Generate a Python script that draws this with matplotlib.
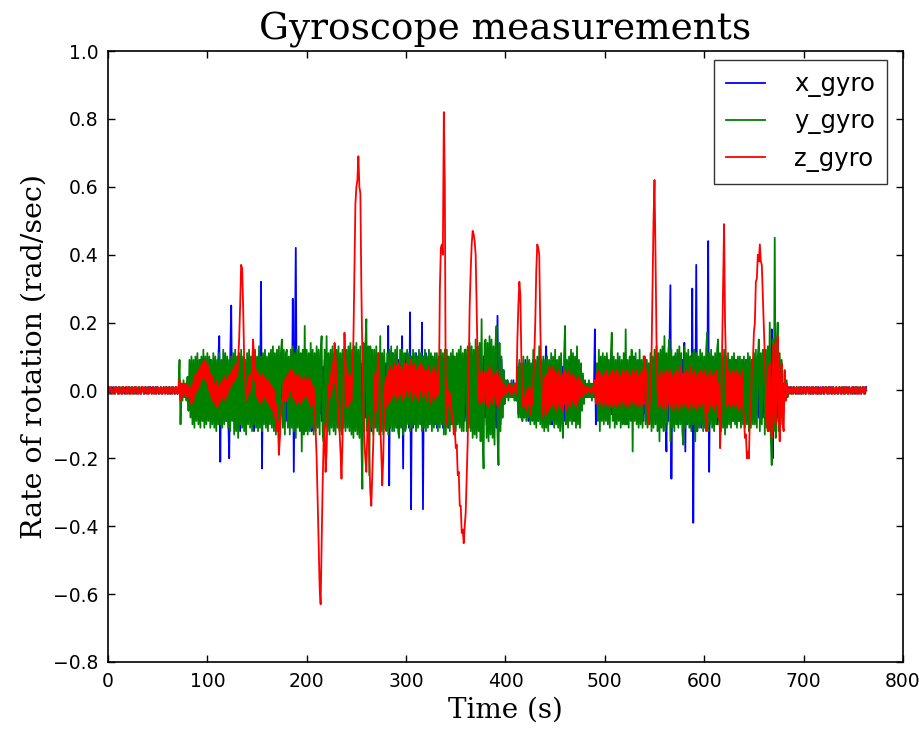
import numpy as np
import matplotlib
matplotlib.use("Agg")
import matplotlib.pyplot as plt

# Gyro readings in units of 0.01 rad/s, one sample per second.
# Split into idle lead-in (0-79 s), active part (80-679 s) and idle tail (680-763 s).

x_head = [
    0, 1, 0, -1, 1, 0, -1, 0, 1, 0, -1, 1, 0, 0, -1, 1, 0, -1, 1, 0,
    0, 1, -1, 0, 1, 0, -1, 1, 0, -1, 0, 1, 0, -1, 1, 0, 0, -1, 1, 0,
    -1, 1, 0, 1, -1, 0, 1, 0, -1, 1, 0, -1, 0, 1, 0, -1, 1, 0, 0, 1,
    -1, 0, 1, -1, 0, 1, 0, -1, 1, 0, -1, 1, 2, -2, 1, -1, 2, -1, 1, -2,
]
x_active = [
    -2, 3, -4, 6, -5, 8, -7, 6, -8, 7, -6, 8, -7, 9, -8, 7, -9, 8, -7, 6,
    -8, 7, -6, 9, -8, 7, -9, 8, -7, 6, -8, 9, 16, -21, 8, -7, 9, -8, 7, -9,
    8, -7, -20, 9, 25, -8, 7, -9, 8, -10, 9, -8, 7, -12, 8, -9, 7, -8, 9, -7,
    8, -9, 7, -8, 9, -7, 8, -12, 7, -9, 8, -7, 9, -8, 32, -23, 8, -7, 9, -8,
    7, -9, 8, -7, 9, -8, 7, -9, 8, -7, 9, -8, 7, -9, 8, -7, 9, -8, 7, -9,
    8, -10, 9, -8, 7, -9, 27, -24, 10, 42, -10, 9, -8, 10, -9, 8, -10, 9, -8, 7,
    -9, 8, -7, 9, -8, -12, 9, -8, 7, -9, 8, -8, 9, -7, 8, -9, 7, -8, 9, -7,
    8, -9, 7, -8, 9, -8, 10, -9, 8, -10, 9, -8, 7, -9, 8, -7, 9, -8, 10, -9,
    8, -10, 9, -8, 10, -9, 8, -11, 9, -10, 8, -9, 10, -8, 9, -11, 8, -10, 9, -8,
    10, -9, 8, -11, 9, -12, 10, -9, 8, -10, 9, -11, 10, -9, 8, -10, 9, -8, 10, -9,
    8, -10, 19, -28, 10, -9, 11, -10, 9, -8, 10, -11, 9, -10, 8, -9, 16, -23, 10, -9,
    11, -9, 10, -11, 23, -35, 10, -11, 9, -10, 11, -9, 10, -8, 9, -10, 20, -35, 10, -9,
    11, -8, 9, -10, 8, -9, 10, -8, 9, -10, 8, -11, 9, -10, 8, -9, 10, -11, 9, -10,
    8, -9, 10, -11, 9, -10, 8, -9, 10, -8, 9, -10, 8, -9, 7, -8, 9, -10, 8, -9,
    10, -8, 9, -10, 8, -9, 7, -8, 9, -10, 8, -9, 10, -8, 9, -10, 8, -9, 10, -8,
    9, -10, 8, -9, 10, -8, 9, -10, 8, -9, 10, -11, 22, -9, 8, -10, 9, -8, 6, -4,
    2, -2, 3, -1, 2, -2, 1, -2, 3, -2, 2, -3, 6, -7, 8, -7, 8, -9, 7, -8,
    9, -7, 8, -9, 8, -9, 7, -8, 9, -7, 8, -9, 8, -9, 7, -8, 9, -7, 8, -9,
    7, 13, -8, 7, -9, 8, -7, -10, 8, -9, 9, -8, 7, -9, 8, -7, 9, -8, 7, -9,
    9, -8, 7, -9, 8, -7, 9, -8, 7, -9, 8, -7, 9, -8, 7, -6, 6, -5, 4, -3,
    2, -2, 1, -2, 2, -1, 2, -2, 1, -2, 18, -10, 7, -8, 6, -7, 8, -6, 7, -8,
    6, -7, 10, -8, 7, -6, 8, -7, 6, -8, 7, -6, 8, -7, 6, -8, 7, -6, 8, -7,
    6, -8, 7, -7, 6, -8, 7, -6, 8, -7, 6, -8, 7, -6, 8, -7, 6, -8, 7, -9,
    8, -7, 9, -8, 7, -9, 8, -7, 9, -8, 7, -9, 8, -7, 9, -8, 7, -9, 8, -7,
    9, -8, -18, 9, -9, 10, 31, -26, 8, -9, 10, -8, 9, -10, 8, -9, 10, -8, 9, -10,
    14, -18, 9, -10, 8, -9, 10, -11, 30, -39, 9, -12, 37, -12, 9, -10, 8, -11, 9, -10,
    8, -11, 9, -10, 44, -24, 9, -8, 10, -10, 8, -9, 9, -10, 8, -9, 7, -8, 9, -8,
    9, -8, 7, -9, 8, -7, 9, -8, 7, -9, 8, -7, 9, -8, 7, -9, 8, -7, 9, -8,
    8, -7, 9, -8, 7, -9, 8, -7, 9, -8, 7, -9, 8, -7, 9, -8, 8, -9, 10, -8,
    9, -8, 10, -9, 8, -10, 9, -8, 18, -20, 9, -10, 8, -9, 10, -8, 9, -7, 6, -4,
]
x_tail = [
    2, -1, 1, 0, -1, 1, 0, 1, -1, 0, 1, 0, -1, 1, 0, -1, 0, 1, -1, 0,
    1, 0, -1, 1, 0, 0, 1, -1, 0, 1, -1, 0, 1, 0, -1, 1, 0, -1, 0, 1,
    -1, 0, 1, 0, -1, 1, 0, 1, -1, 0, 1, -1, 0, 1, 0, -1, 1, 0, -1, 0,
    1, -1, 0, 1, 0, -1, 1, 0, 0, -1, 1, 0, -1, 1, 0, -1, 0, 1, -1, 0,
    1, 0, -1, 1,
]

y_head = [
    0, -1, 1, 0, -1, 0, 1, -1, 0, 1, 0, -1, 1, 0, -1, 1, 0, 0, -1, 1,
    -1, 0, 1, -1, 0, 1, 0, -1, 1, 0, -1, 1, 0, -1, 0, 1, -1, 0, 1, 0,
    0, -1, 1, 0, -1, 1, 0, -1, 1, 0, 1, -1, 0, 1, -1, 0, 1, 0, -1, 1,
    0, -1, 1, 0, -1, 1, 0, -1, 1, 0, -1, 1, 9, -10, 2, -3, 3, -2, 2, -3,
]
y_active = [
    4, -6, 9, -8, 10, -10, 9, -11, 10, -9, 11, -10, 9, -11, 10, -9, 12, -11, 10, -10,
    11, -9, 10, -11, 9, -10, 11, -11, 10, -12, 9, -10, 11, -10, 9, -11, 12, -10, 11, -9,
    10, -11, 9, -12, 10, -9, 11, -13, 12, -12, 10, -14, 11, -10, 12, -11, 10, -12, 9, -13,
    11, -10, 12, -11, 10, -12, 11, -10, 12, -11, 10, -12, 13, -11, 10, -12, 11, -10, 12, -11,
    10, -12, 11, -10, 12, -11, 13, -12, 11, -13, 12, -11, 13, -12, 11, 15, -11, 12, -13, 11,
    12, -11, 10, -13, 12, -11, 13, -12, 11, -14, 12, -11, 13, -12, 11, -18, 12, -13, 19, -12,
    12, -13, 11, -12, 14, -11, 12, -13, 11, -12, 13, -11, 12, -13, 11, 16, -12, -15, 12, -11,
    16, -12, 11, -13, 12, -11, 13, -12, 11, -13, 12, -11, 13, -12, 11, -13, 12, -11, 13, -12,
    12, -11, 13, -12, 14, -13, 12, -14, 13, -12, 14, -13, 12, -14, 13, -15, -29, 14, -12, 13,
    21, -12, 13, -25, 13, -11, 12, -13, 12, -11, 13, -12, 11, -13, 16, -12, 11, -13, 12, -11,
    -12, 11, -13, 12, -11, 13, -12, 11, -12, 12, -11, 13, -12, -14, 12, -11, 12, -13, 11, -12,
    -11, 12, -10, 11, -12, 10, -11, 12, -10, 11, -12, 10, -11, 12, -10, 11, -12, 10, -11, 12,
    -12, 10, -11, 12, -10, 11, -12, 10, -11, 11, -10, 11, -12, 10, -11, 12, -10, 11, -13, 12,
    -13, 12, -11, 10, -12, 11, -10, 12, -11, 10, -12, 11, -10, 12, -11, 13, -12, 11, -12, 12,
    12, -12, 13, -11, 14, -12, 13, -14, 12, -13, 15, -14, 13, -12, 14, -15, 21, -13, -23, 14,
    15, -14, 14, -15, 16, -13, 15, -14, 13, -16, 14, 19, -13, -22, 14, -12, 10, -8, 6, -4,
    3, -2, 3, -3, 2, -2, 3, -2, 2, -3, 2, -3, 7, -8, 9, -8, 8, -9, 10, -8,
    8, -9, 10, -8, 9, -10, 8, -9, 12, -10, 9, -11, 10, -9, 13, -10, 9, -11, 10, -12,
    9, -11, 10, -12, 9, -10, 11, -9, 10, -11, 12, -10, 9, -11, 10, -12, 11, -10, -14, 10,
    19, -10, 9, -11, 10, -9, 12, -10, 11, -9, 10, -11, 13, -10, 9, -11, 8, -6, 5, -4,
    3, -2, 2, -2, 3, -2, 2, -3, 2, -2, 3, -3, 8, -9, 12, -12, 10, -9, 11, -10,
    10, -9, 11, -10, 9, -11, 10, 17, -9, 10, -11, 9, -10, 11, -9, 10, -11, 9, -10, 11,
    -10, 18, -10, 9, -11, 10, -9, 12, -18, 10, -9, 11, -10, 9, -11, 12, -10, 9, -11, 10,
    10, -10, 9, -11, 8, -10, 11, -12, 10, -11, 12, -10, 13, -12, 11, -15, 12, -11, 13, -12,
    16, -12, 11, -10, 12, 15, -15, 12, -11, 10, -12, 11, -10, 12, -11, 13, -10, 11, -12, -16,
    13, -11, 11, -10, 12, -11, 10, -12, 11, -10, 12, -15, 11, -12, 10, -11, 12, -10, 11, -12,
    10, -11, 12, 17, -12, 11, -10, 12, -11, 10, -12, 11, -10, 12, 15, -10, 11, -12, 10, -11,
    12, -13, 10, -11, 11, -10, 9, -11, 10, -9, 11, -10, 9, -11, 10, -9, 10, -11, 9, -10,
    10, -11, 9, -10, 11, -12, 10, -11, 9, -10, 11, -10, 12, -11, 10, 15, -12, 11, -10, 12,
    11, -13, 12, -11, 13, -12, 20, -14, -22, 15, -12, 45, -14, 12, 20, -12, 11, -10, 9, -8,
]
y_tail = [
    -6, 5, -3, 3, -2, 1, 0, -1, 1, 0, -1, 1, 0, -1, 0, 1, -1, 0, 1, -1,
    0, 1, 0, -1, 1, 0, -1, 0, 1, -1, 1, 0, -1, 1, 0, -1, 0, 1, -1, 0,
    1, -1, 0, 1, 0, -1, 1, 0, -1, 1, 0, -1, 0, 1, -1, 0, 1, 0, -1, 1,
    0, -1, 1, 0, -1, 0, 1, -1, 0, 1, 0, -1, 1, 0, -1, 1, 0, 0, -1, 1,
    0, -1, 1, 0,
]

z_head = [
    1, -1, 0, 1, -1, 0, 1, -1, 1, 0, -1, 1, -1, 0, 1, -1, 1, 0, -1, 1,
    -1, 1, 0, -1, 1, -1, 0, 1, -1, 1, 0, -1, 1, -1, 0, 1, -1, 1, 0, -1,
    1, -1, 1, 0, -1, 1, -1, 0, 1, -1, 1, 0, -1, 1, -1, 0, 1, -1, 1, 0,
    -1, 1, -1, 0, 1, -1, 1, 0, -1, 1, -1, 0, 3, -3, 2, -2, 1, -1, 2, -2,
]
z_active = [
    2, -2, 1, -1, -4, 2, -3, 4, -1, 5, 0, 6, 1, 7, 3, 8, 4, 9, 3, 8,
    2, 7, 0, 5, -2, 4, -3, 2, -4, 3, -5, 1, -4, 2, -3, 3, -2, 4, -3, 3,
    -2, 4, 0, 5, 1, 6, 2, 7, 3, 8, 4, 9, 15, 25, 37, 36, 25, 10, 3, -2,
    -3, 4, -1, 5, 0, 6, 15, 10, 3, 6, -2, 5, -3, 4, -4, 5, -3, 4, -2, 3,
    -3, 3, -4, 2, -5, 1, -6, 0, -8, -4, -12, -9, -19, -14, -8, -3, -2, 3, -3, 4,
    -3, 5, -2, 6, 0, 6, -2, 5, -3, 4, -4, 5, -3, 4, -4, 3, -3, 4, -2, 3,
    -2, 4, -3, 3, -5, 2, -4, 1, -5, -12, -20, -32, -45, -58, -63, -45, -28, -15, -10, -24,
    -18, -5, 2, -2, 5, 0, 8, 2, 14, 10, 3, -3, -8, -12, -18, -26, -15, 0, 17, 8,
    3, -5, 5, -4, 4, -3, 6, 15, 35, 55, 60, 62, 69, 60, 58, 30, 10, -5, -15, -20,
    -24, -12, -8, -20, -30, -34, -25, -15, 0, 5, -6, 4, 11, 5, -10, -18, -28, -20, -5, 2,
    4, -5, 6, -4, 7, -3, 6, -2, 8, -1, 7, -3, 8, -2, 7, -1, 6, -3, 8, -2,
    8, 0, 7, -2, 9, 0, 7, -3, 8, -1, 6, -2, 7, -3, 8, 0, 7, -2, 6, -1,
    6, -3, 7, 0, 5, -4, 6, -2, 7, -3, 5, -2, 6, -1, 30, 42, 43, 40, 82, 60,
    -10, 3, -4, 0, -6, -1, -9, -7, -13, -11, -17, -16, -25, -24, -34, -34, -42, -41, -45, -40,
    -36, -25, -15, 5, 25, 35, 43, 47, 46, 44, 40, 25, 8, 0, -4, 5, -3, 6, -4, 5,
    5, -4, 6, -5, 7, -3, 6, -4, 4, -2, 5, -4, 6, -5, 4, -3, 3, -2, 2, -1,
    1, -1, 1, 0, 2, -1, 1, -1, 1, 0, 2, -1, 15, 25, 32, 28, 10, -3, -5, -2,
    -3, -6, 0, -4, 1, -7, 0, -4, 3, 10, 20, 35, 43, 42, 40, 20, 5, -3, -8, -3,
    4, -7, 5, -6, 7, -5, 6, -4, 7, -5, 6, -6, 5, -4, 6, -5, 4, -6, 5, -4,
    6, -6, 5, -4, 6, -5, 4, -3, 5, -4, 4, -5, 3, -3, 4, -2, 3, -2, 2, -1,
    1, -1, 1, 0, 1, -1, 0, 1, 0, -1, 3, -4, 5, -4, 6, -3, 5, -5, 4, -4,
    5, -4, 6, -5, 4, -4, 5, -5, 6, -4, 5, -5, 6, -4, 5, -5, 4, -3, 6, -4,
    5, -5, 6, -4, 5, -5, 4, -3, 6, -4, 5, -4, 6, -5, 4, -4, 5, -5, 6, -4,
    10, 6, 4, -5, -10, -4, -2, 10, 30, 50, 62, 40, 15, 0, -5, 5, -4, 6, -5, 4,
    5, -6, 6, -5, 5, -4, 6, -5, 4, -6, 5, -4, 6, -5, 5, -6, 7, -4, 5, -5,
    5, -4, 6, -5, 5, -6, 7, -4, 5, -5, 6, -5, 4, -6, 5, -4, 6, -5, 5, -4,
    6, -5, -12, 4, -6, 5, -4, 6, -5, 4, -6, 5, -4, 6, -8, 2, -17, -8, 10, 30,
    49, 20, 8, -5, 6, -4, 5, -5, 6, -4, 5, -5, 6, -4, 5, -6, 4, -5, 6, -4,
    -8, -14, -13, -20, -18, -20, -8, -5, 7, 8, 17, 20, 32, 33, 40, 38, 43, 38, 37, 28,
    20, 10, 0, -8, -12, 6, 8, -8, -14, 10, 14, -6, -10, 8, 16, -5, -15, 4, 8, -10,
]
z_tail = [
    -12, 6, -3, 2, -1, 1, -1, 0, 1, -1, 1, 0, -1, 1, -1, 0, 1, -1, 1, 0,
    -1, 1, -1, 0, 1, -1, 1, 0, -1, 1, -1, 0, 1, -1, 1, 0, -1, 1, -1, 0,
    1, -1, 1, 0, -1, 1, -1, 0, 1, -1, 1, 0, -1, 1, -1, 0, 1, -1, 1, 0,
    -1, 1, -1, 0, 1, -1, 1, 0, -1, 1, -1, 0, 1, -1, 1, 0, -1, 1, -1, 0,
    1, -1, 1, 0,
]

x_gyro = np.concatenate([x_head, x_active, x_tail]) / 100.0
y_gyro = np.concatenate([y_head, y_active, y_tail]) / 100.0
z_gyro = np.concatenate([z_head, z_active, z_tail]) / 100.0
assert len(x_gyro) == len(y_gyro) == len(z_gyro), (len(x_gyro), len(y_gyro), len(z_gyro))
time = np.arange(len(x_gyro))  # seconds

fig = plt.figure(figsize=(9.19, 7.29), dpi=100)
ax = fig.add_axes([0.1175, 0.092, 0.865, 0.838])

ax.plot(time, x_gyro, color="b", lw=1.3, label="x_gyro")
ax.plot(time, y_gyro, color="g", lw=1.3, label="y_gyro")
ax.plot(time, z_gyro, color="r", lw=1.3, label="z_gyro")

ax.set_xlim(0, 800)
ax.set_ylim(-0.8, 1.0)
ax.set_xticks(np.arange(0, 801, 100))
ax.set_yticks(np.round(np.arange(-0.8, 1.01, 0.2), 1))
ax.tick_params(direction="in", length=5, width=1, top=True, right=True,
               labelsize=13.5, pad=7)
for s in ax.spines.values():
    s.set_linewidth(1.2)

ax.set_title("Gyroscope measurements", family="DejaVu Serif", fontsize=27, pad=8)
ax.set_xlabel("Time (s)", family="DejaVu Serif", fontsize=20)
ax.set_ylabel("Rate of rotation (rad/sec)", family="DejaVu Serif", fontsize=20.5)

leg = ax.legend(loc="upper right", bbox_to_anchor=(0.98, 0.985), borderaxespad=0,
                fontsize=17.5, fancybox=False, handlelength=1.6, handletextpad=1.2,
                labelspacing=0.5, borderpad=0.5)
leg.get_frame().set_edgecolor("black")
leg.get_frame().set_linewidth(1.0)

fig.savefig("out.png", dpi=100)
